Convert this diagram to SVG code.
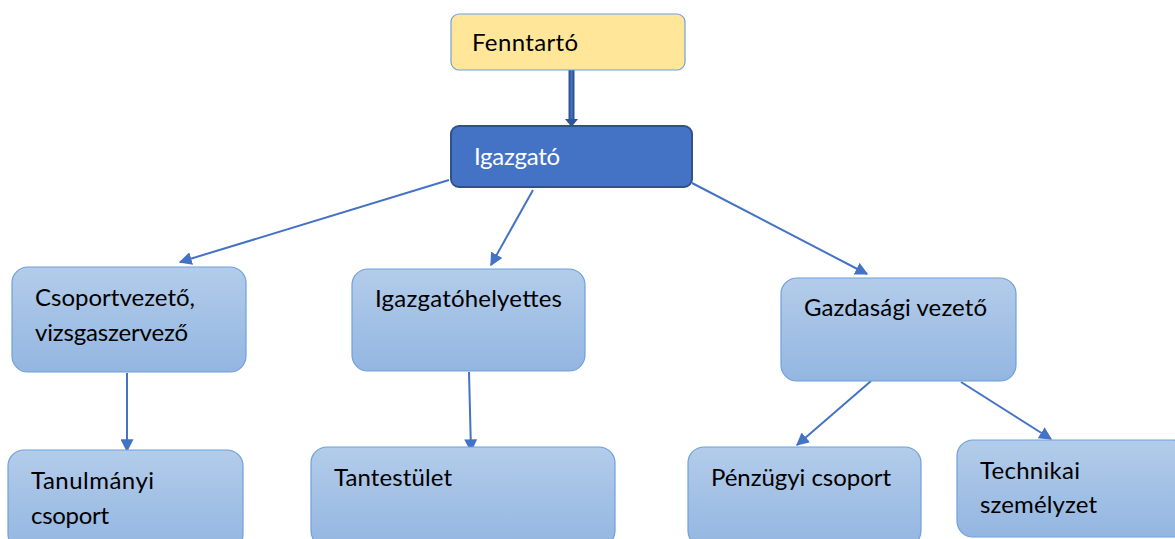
<svg xmlns="http://www.w3.org/2000/svg" width="1175" height="539" viewBox="0 0 1175 539">
<style>
.box{fill:url(#g);stroke:#6FA0DC;stroke-width:1.2}
.t{font-family:Lato,"Open Sans",sans-serif;font-size:24px;fill:#000}
.c{stroke:#4472C4;stroke-width:2;fill:none;marker-end:url(#a)}
</style>
<defs>
<linearGradient id="g" x1="0" y1="0" x2="0" y2="1">
<stop offset="0" stop-color="#B3CCEA"/>
<stop offset="1" stop-color="#93B6E1"/>
</linearGradient>
<marker id="a" viewBox="0 0 10 10" refX="9" refY="5" markerWidth="6.5" markerHeight="6.5" orient="auto" markerUnits="strokeWidth">
<path d="M0,0 L10,5 L0,10 z" fill="#4472C4"/>
</marker>
</defs>
<rect width="1175" height="539" fill="#fff"/>
<g id="connectors">
<line x1="571.5" y1="70" x2="571.5" y2="120" stroke="#2F5597" stroke-width="6"/>
<line x1="571.5" y1="70" x2="571.5" y2="120" stroke="#4472C4" stroke-width="2"/>
<path d="M565,119 L578,119 L571.5,127 z" fill="#2F5597"/>
<line class="c" x1="449" y1="180" x2="180" y2="262"/>
<line class="c" x1="533" y1="190" x2="491" y2="265"/>
<line class="c" x1="692" y1="183" x2="867" y2="274"/>
<line class="c" x1="127" y1="373" x2="127" y2="451"/>
<line class="c" x1="469" y1="372" x2="471" y2="451"/>
<line class="c" x1="871" y1="381" x2="797" y2="445"/>
<line class="c" x1="961" y1="382" x2="1051" y2="439"/>
</g>
<g id="fenntarto">
<rect x="451" y="14" width="234" height="56" rx="8" fill="#FFE699" stroke="#6FA0DC" stroke-width="1.2"/>
<text class="t" x="472" y="51" textLength="106">Fenntartó</text>
</g>
<g id="igazgato">
<rect x="451" y="126" width="241" height="61" rx="8" fill="#4472C4" stroke="#2F528F" stroke-width="2"/>
<text class="t" x="474" y="165" style="fill:#fff" textLength="86">Igazgató</text>
</g>
<g id="csoportvezeto">
<rect class="box" x="12" y="267" width="234" height="105" rx="16"/>
<text class="t" x="35" y="306" textLength="160">Csoportvezető,</text>
<text class="t" x="35" y="341" textLength="153">vizsgaszervező</text>
</g>
<g id="igazgatohelyettes">
<rect class="box" x="352" y="269" width="233" height="102" rx="16"/>
<text class="t" x="375" y="307" textLength="187">Igazgatóhelyettes</text>
</g>
<g id="gazdasagi">
<rect class="box" x="781" y="278" width="235" height="103" rx="16"/>
<text class="t" x="804" y="316" textLength="183">Gazdasági vezető</text>
</g>
<g id="tanulmanyi">
<rect class="box" x="8" y="450" width="235" height="100" rx="16"/>
<text class="t" x="31" y="489" textLength="123">Tanulmányi</text>
<text class="t" x="31" y="524" textLength="78">csoport</text>
</g>
<g id="tantestulet">
<rect class="box" x="311" y="447" width="304" height="100" rx="16"/>
<text class="t" x="334" y="486" textLength="118">Tantestület</text>
</g>
<g id="penzugyi">
<rect class="box" x="688" y="447" width="233" height="100" rx="16"/>
<text class="t" x="711" y="486" textLength="180">Pénzügyi csoport</text>
</g>
<g id="technikai">
<rect class="box" x="957" y="440" width="232" height="97" rx="16"/>
<text class="t" x="980" y="479" textLength="100">Technikai</text>
<text class="t" x="980" y="513" textLength="117">személyzet</text>
</g>
</svg>
